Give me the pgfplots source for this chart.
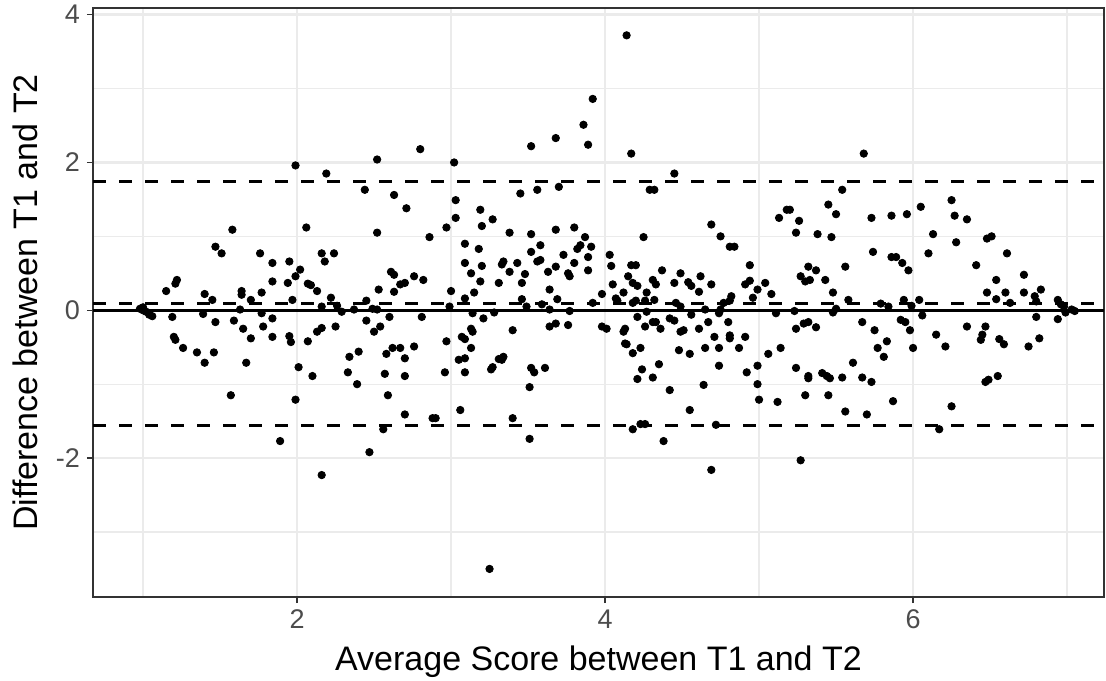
\documentclass[border=0pt]{standalone}
\usepackage{fontspec}
\setmainfont{Liberation Sans}
\usepackage{pgfplots}
\pgfplotsset{compat=1.18}
\definecolor{grid92}{gray}{0.92}
\definecolor{gray30}{gray}{0.30}
\definecolor{gray20}{gray}{0.20}
\begin{document}
\begin{tikzpicture}
\begin{axis}[name=ax, scale only axis, width=505.5pt, height=294.5pt,
 xmin=0.675, xmax=7.24, ymin=-3.88, ymax=4.09,
 xtick={2,4,6}, ytick={-2,0,2,4}, minor xtick={1,3,5,7}, minor ytick={-3,-1,1,3},
 grid=both, major grid style={grid92, line width=1.3pt}, minor grid style={grid92, line width=0.65pt},
 axis line style={gray20, line width=0.7pt},
 tick align=outside, major tick length=3pt, minor tick length=0pt,
 tick style={gray20, line width=0.7pt}, tick pos=left,
 ticklabel style={font=\fontsize{13.5}{15}\selectfont, text=gray30},
 /pgf/number format/assume math mode=true,
 xlabel={Average Score between T1 and T2}, ylabel={Difference between T1 and T2},
 label style={font=\fontsize{17}{20}\selectfont},
 xlabel style={at={(axis description cs:0.5,-0.1104)}, anchor=center},
 ylabel style={at={(axis description cs:-0.0673,0.5)}, anchor=center},
 clip=true]
\addplot[only marks, mark=*, mark size=1.85pt, mark options={fill=black, draw=none}] table {
x y
1.58 1.09
1.47 0.86
1.51 0.77
1.76 0.77
1.22 0.41
1.21 0.36
1.15 0.26
1.40 0.22
1.45 0.14
1.64 0.26
1.64 0.21
1.70 0.14
1.77 0.24
0.98 0.02
1.00 0.00
1.02 -0.02
1.04 -0.06
1.00 0.04
1.06 -0.08
1.19 -0.09
1.20 -0.36
1.21 -0.40
1.26 -0.51
1.35 -0.57
1.40 -0.71
1.46 -0.57
1.39 -0.05
1.47 -0.16
1.57 -1.15
1.59 -0.14
1.63 0.01
1.65 -0.25
1.70 -0.38
1.67 -0.71
1.77 -0.04
1.78 -0.22
2.80 2.18
2.52 2.04
1.99 1.96
2.19 1.85
2.44 1.63
2.63 1.56
2.71 1.38
2.06 1.12
2.52 1.05
2.86 0.99
2.16 0.77
2.18 0.66
2.24 0.77
1.84 0.64
1.95 0.66
2.02 0.55
1.99 0.46
1.84 0.39
1.94 0.37
2.07 0.36
2.09 0.34
2.13 0.26
2.22 0.17
1.97 0.14
2.61 0.52
2.63 0.48
2.76 0.46
2.82 0.41
2.67 0.35
2.70 0.37
2.53 0.28
2.63 0.25
2.45 0.13
1.84 -0.11
1.84 -0.36
1.95 -0.35
1.96 -0.43
2.07 -0.42
2.13 -0.29
2.16 -0.24
2.25 -0.22
2.16 0.05
2.26 0.06
2.29 -0.02
2.37 0.01
2.49 0.02
2.52 0.01
2.45 -0.14
2.60 -0.09
2.81 -0.09
2.50 -0.29
2.54 -0.22
2.01 -0.77
2.10 -0.89
2.34 -0.63
2.40 -0.56
2.33 -0.84
2.39 -1.00
2.58 -0.59
2.62 -0.51
2.67 -0.51
2.70 -0.65
2.76 -0.49
2.57 -0.86
2.70 -0.89
2.59 -1.15
1.99 -1.21
2.70 -1.41
2.88 -1.46
2.56 -1.61
1.89 -1.77
2.47 -1.92
2.16 -2.23
3.86 2.51
3.68 2.33
3.52 2.22
3.89 2.24
3.92 2.86
3.02 2.00
3.45 1.58
3.56 1.63
3.70 1.67
3.03 1.49
3.19 1.36
3.27 1.23
3.03 1.25
2.97 1.12
3.20 1.14
3.38 1.05
3.52 1.03
3.68 1.09
3.80 1.12
3.87 0.99
3.09 0.90
3.18 0.83
3.58 0.88
3.52 0.79
3.84 0.88
3.82 0.83
3.91 0.86
3.73 0.75
3.89 0.72
3.09 0.64
3.13 0.50
3.20 0.60
3.19 0.39
3.34 0.66
3.33 0.62
3.43 0.64
3.38 0.52
3.56 0.66
3.58 0.68
3.48 0.49
3.46 0.37
3.63 0.52
3.68 0.59
3.76 0.50
3.77 0.46
3.80 0.64
3.89 0.54
3.31 0.37
3.00 0.26
3.09 0.16
3.15 0.24
3.64 0.28
3.46 0.15
3.69 0.15
3.98 0.22
2.99 0.05
3.14 -0.04
3.21 -0.11
3.28 -0.03
3.49 0.05
3.59 0.08
3.64 0.01
3.77 -0.01
3.92 0.10
2.97 -0.42
3.07 -0.36
3.09 -0.39
3.13 -0.25
3.14 -0.29
3.13 -0.51
3.05 -0.67
3.09 -0.65
2.96 -0.84
3.09 -0.84
3.40 -0.27
3.26 -0.80
3.27 -0.77
3.31 -0.66
3.34 -0.63
3.33 -0.67
3.52 -0.78
3.54 -0.84
3.61 -0.78
3.64 -0.22
3.68 -0.18
3.76 -0.20
3.98 -0.22
3.51 -1.04
3.06 -1.35
2.90 -1.46
3.40 -1.46
3.51 -1.74
3.25 -3.50
4.14 3.72
4.17 2.12
4.45 1.85
4.29 1.63
4.32 1.63
4.69 1.16
4.75 1.00
4.81 0.86
4.84 0.86
4.25 0.99
4.03 0.75
4.04 0.60
4.17 0.61
4.20 0.61
4.15 0.46
4.18 0.37
4.21 0.33
4.05 0.35
4.07 0.16
4.12 0.24
4.27 0.24
4.31 0.41
4.33 0.35
4.37 0.54
4.32 0.14
4.45 0.37
4.49 0.50
4.54 0.38
4.56 0.33
4.62 0.46
4.61 0.25
4.69 0.35
4.82 0.19
4.94 0.61
4.94 0.40
4.91 0.35
5.04 0.37
4.99 0.28
4.96 0.17
5.08 0.22
4.08 0.13
4.18 0.10
4.20 0.13
4.26 0.13
4.27 -0.02
4.21 -0.09
4.01 -0.25
4.12 -0.29
4.13 -0.25
4.26 -0.22
4.31 -0.16
4.33 -0.16
4.36 -0.25
4.42 -0.11
4.45 -0.14
4.46 0.10
4.49 0.05
4.56 -0.06
4.49 -0.29
4.51 -0.27
4.61 -0.25
4.65 0.01
4.67 -0.16
4.74 -0.04
4.75 0.01
4.77 0.10
4.81 0.13
4.71 -0.36
4.80 -0.16
4.81 -0.34
4.81 -0.38
4.91 -0.36
4.13 -0.45
4.14 -0.46
4.18 -0.58
4.23 -0.51
4.48 -0.54
4.55 -0.59
4.65 -0.51
4.74 -0.51
4.87 -0.51
5.06 -0.59
4.24 -0.80
4.21 -0.93
4.35 -0.73
4.31 -0.91
4.74 -0.75
4.92 -0.84
4.99 -0.75
4.99 -1.00
5.00 -1.21
4.42 -1.08
4.64 -1.01
4.55 -1.35
4.23 -1.54
4.26 -1.54
4.18 -1.61
4.72 -1.55
4.38 -1.77
4.69 -2.16
5.68 2.12
5.54 1.63
5.45 1.43
5.50 1.30
5.18 1.36
5.20 1.36
5.13 1.25
5.26 1.21
5.24 1.05
5.38 1.03
5.47 0.99
5.73 1.25
5.86 1.28
5.96 1.30
6.05 1.40
6.13 1.03
5.74 0.79
5.86 0.72
5.89 0.72
5.93 0.64
5.97 0.54
6.10 0.77
5.56 0.59
5.32 0.59
5.37 0.54
5.27 0.46
5.30 0.39
5.33 0.41
5.43 0.41
5.48 0.24
5.58 0.14
5.94 0.14
6.04 0.14
5.11 -0.04
5.23 -0.01
5.48 -0.03
5.50 0.02
5.79 0.09
5.84 0.05
5.99 0.06
6.06 -0.07
5.24 -0.25
5.29 -0.18
5.32 -0.16
5.37 -0.23
5.67 -0.16
5.75 -0.27
5.92 -0.13
5.95 -0.16
5.98 -0.27
6.15 -0.33
5.14 -0.51
5.83 -0.42
5.77 -0.51
5.81 -0.63
6.00 -0.51
5.61 -0.71
5.24 -0.78
5.32 -0.89
5.32 -0.92
5.41 -0.85
5.44 -0.89
5.46 -0.92
5.54 -0.91
5.67 -0.91
5.73 -0.97
5.12 -1.24
5.30 -1.15
5.45 -1.15
5.56 -1.37
5.70 -1.41
5.87 -1.23
6.17 -1.61
5.27 -2.03
6.25 1.49
6.27 1.28
6.35 1.23
6.28 0.92
6.48 0.97
6.51 1.00
6.61 0.77
6.41 0.61
6.72 0.48
6.54 0.41
6.48 0.24
6.54 0.15
6.60 0.24
6.72 0.24
6.79 0.19
6.83 0.28
6.94 0.14
6.63 0.10
6.80 0.12
6.98 0.05
7.03 0.01
7.05 -0.01
6.99 -0.03
6.94 -0.12
6.96 0.08
6.80 -0.09
6.35 -0.22
6.47 -0.22
6.45 -0.33
6.44 -0.40
6.56 -0.39
6.59 -0.46
6.21 -0.49
6.75 -0.49
6.82 -0.38
6.47 -0.97
6.49 -0.94
6.55 -0.89
6.25 -1.30
};
\addplot[black, line width=1.6pt] coordinates {(0.675,0) (7.24,0)};
\addplot[black, line width=1.6pt, dash pattern=on 6.5pt off 6.5pt] coordinates {(0.675,1.743) (7.24,1.743)};
\addplot[black, line width=1.6pt, dash pattern=on 6.5pt off 6.5pt] coordinates {(0.675,0.09) (7.24,0.09)};
\addplot[black, line width=1.6pt, dash pattern=on 6.5pt off 6.5pt] coordinates {(0.675,-1.563) (7.24,-1.563)};
\end{axis}
\pgfresetboundingbox
\path[use as bounding box] ([shift={(-46.5pt,-41.5pt)}]ax.south west) rectangle ([shift={(1pt,4pt)}]ax.north east);
\end{tikzpicture}
\end{document}
